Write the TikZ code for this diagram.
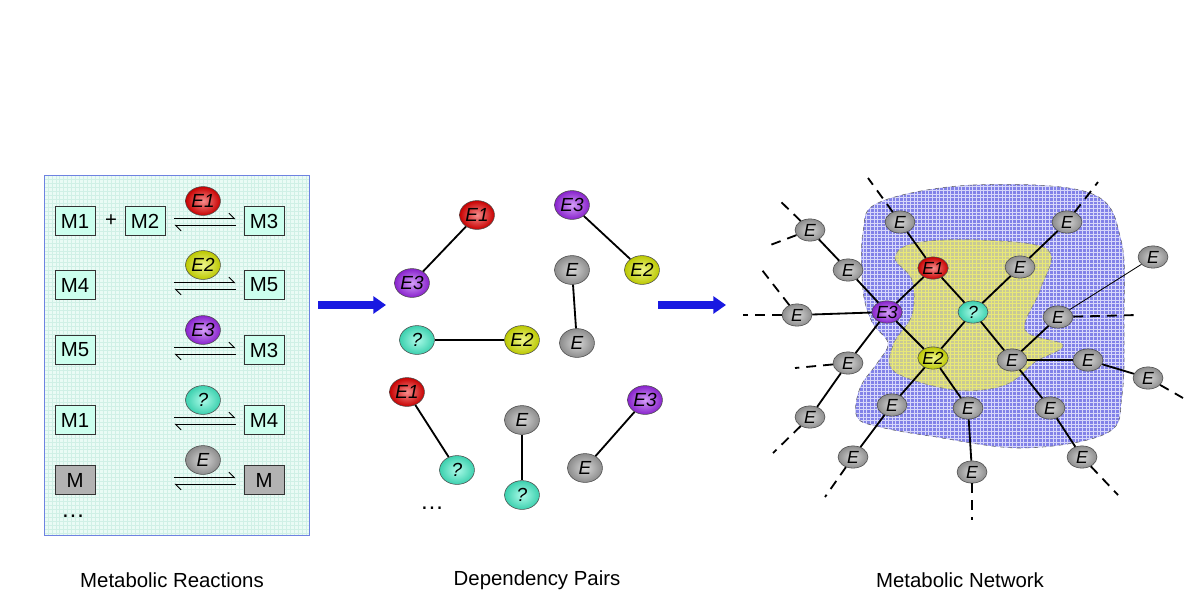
\documentclass[tikz,border=0pt]{standalone}
\usepackage{fontspec}
\setmainfont{Liberation Sans}
\usetikzlibrary{shapes.geometric,arrows.meta}

\definecolor{mint}{RGB}{204,255,238}
\definecolor{panelbg}{RGB}{234,251,245}
\definecolor{panelgrid}{RGB}{208,240,230}
\definecolor{panelline}{RGB}{110,130,225}
\definecolor{enzred}{RGB}{235,0,0}
\definecolor{enzyellow}{RGB}{220,235,0}
\definecolor{enzpurple}{RGB}{160,40,240}
\definecolor{enzcyan}{RGB}{70,245,205}
\definecolor{enzgray}{RGB}{165,165,165}
\definecolor{blobblue}{RGB}{130,130,232}
\definecolor{blobgrid}{RGB}{215,215,250}
\definecolor{blobyellow}{RGB}{200,200,150}
\definecolor{blobyline}{RGB}{232,232,120}
\definecolor{arrowblue}{RGB}{25,25,225}

\tikzset{
  mbox/.style={draw=black!80, fill=mint, minimum width=28.3pt, minimum height=20.6pt,
    inner sep=0pt, font=\fontsize{14.5}{14.5}\selectfont},
  enz/.style={ellipse, draw=black!70, minimum width=24.8pt, minimum height=20.5pt,
    inner sep=0pt, font=\fontsize{13.5}{13.5}\selectfont\itshape,
    inner color=#1!45!white, outer color=#1!85!black},
  enzs/.style={ellipse, draw=black!70, minimum width=21.3pt, minimum height=15.8pt,
    inner sep=0pt, font=\fontsize{12.5}{12.5}\selectfont\itshape,
    inner color=#1!45!white, outer color=#1!85!black},
  eqslot/.style={minimum width=43pt, minimum height=4.3pt, inner sep=0pt},
  eqline/.style={line width=0.6pt, -{Straight Barb[left,length=4pt]}},
  link/.style={line width=1.3pt},
  loose/.style={line width=1.3pt, dash pattern=on 7pt off 5pt},
  bigarrow/.style={line width=5pt, arrowblue, -{Triangle[length=9pt,width=12pt]}},
  caption/.style={font=\fontsize{14.5}{14.5}\selectfont},
  more/.style={font=\fontsize{17}{17}\selectfont},
}

\begin{document}
\begin{tikzpicture}[x=0.025cm, y=-0.025cm]
    \useasboundingbox (0,0) rectangle (1200,600);

    % reactions panel
    \fill[panelbg] (44,175) rectangle (309,535);
    \draw[panelgrid, line width=0.3pt, step=2.83pt] (44,175) grid (309,535);
    \draw[panelline, line width=0.5pt] (44,175) rectangle (309,535);

    \node[mbox] (m1) at (75,221) {M1};
    \node (plus) at (111,221) {\fontsize{14.5}{14.5}\selectfont +};
    \node[mbox] (m2) at (145,221) {M2};
    \node[enz=enzred] (r1) at (203,201) {E1};
    \node[eqslot] (q1) at (205,222) {};
    \node[mbox] (m3) at (264,221) {M3};

    \node[mbox] (m4) at (75,285) {M4};
    \node[enz=enzyellow] (r2) at (203,265) {E2};
    \node[eqslot] (q2) at (205,286) {};
    \node[mbox] (m5) at (264,285) {M5};

    \node[mbox] (m6) at (75,350) {M5};
    \node[enz=enzpurple] (r3) at (203,330) {E3};
    \node[eqslot] (q3) at (205,351) {};
    \node[mbox] (m7) at (264,350) {M3};

    \node[mbox] (m8) at (75,420) {M1};
    \node[enz=enzcyan] (r4) at (203,400) {?};
    \node[eqslot] (q4) at (205,421) {};
    \node[mbox] (m9) at (264,420) {M4};

    \node[mbox, fill=black!30] (m10) at (75,480) {M};
    \node[enz=enzgray] (r5) at (203,460) {E};
    \node[eqslot] (q5) at (205,481) {};
    \node[mbox, fill=black!30] (m11) at (264,480) {M};

    \node[more] (rdots) at (73,516) {\dots};

    \draw[eqline] (q1.north west) -- (q1.north east);
    \draw[eqline] (q1.south east) -- (q1.south west);
    \draw[eqline] (q2.north west) -- (q2.north east);
    \draw[eqline] (q2.south east) -- (q2.south west);
    \draw[eqline] (q3.north west) -- (q3.north east);
    \draw[eqline] (q3.south east) -- (q3.south west);
    \draw[eqline] (q4.north west) -- (q4.north east);
    \draw[eqline] (q4.south east) -- (q4.south west);
    \draw[eqline] (q5.north west) -- (q5.north east);
    \draw[eqline] (q5.south east) -- (q5.south west);

    % arrows between panels
    \coordinate (a1s) at (318,305);
    \coordinate (a1e) at (386,305);
    \coordinate (a2s) at (658,305);
    \coordinate (a2e) at (726,305);
    \draw[bigarrow] (a1s) -- (a1e);
    \draw[bigarrow] (a2s) -- (a2e);

    % dependency pairs
    \node[enz=enzred] (d1) at (477,215) {E1};
    \node[enz=enzpurple] (d2) at (412,283) {E3};
    \node[enz=enzpurple] (d3) at (572,205) {E3};
    \node[enz=enzyellow] (d4) at (642,270) {E2};
    \node[enz=enzgray] (d5) at (572,270) {E};
    \node[enz=enzgray] (d6) at (577,343) {E};
    \node[enz=enzcyan] (d7) at (417,340) {?};
    \node[enz=enzyellow] (d8) at (522,340) {E2};
    \node[enz=enzred] (d9) at (407,392) {E1};
    \node[enz=enzcyan] (d10) at (457,470) {?};
    \node[enz=enzgray] (d11) at (522,420) {E};
    \node[enz=enzcyan] (d12) at (522,495) {?};
    \node[enz=enzpurple] (d13) at (645,400) {E3};
    \node[enz=enzgray] (d14) at (585,468) {E};
    \node[more] (ddots) at (432,508) {\dots};

    \draw[link] (d1) -- (d2);
    \draw[link] (d3) -- (d4);
    \draw[link] (d5) -- (d6);
    \draw[link] (d7) -- (d8);
    \draw[link] (d9) -- (d10);
    \draw[link] (d11) -- (d12);
    \draw[link] (d13) -- (d14);

    % network regions
    \begin{scope}
        \clip plot[smooth cycle, tension=0.6] coordinates {(880,202) (973,185) (1090,193) (1121,240)
            (1124,320) (1122,395) (1107,433) (1023,448) (930,436) (880,427) (857,417) (860,388)
            (878,362) (888,343) (872,322) (863,290) (863,232)};
        \fill[blobblue] (840,170) rectangle (1140,460);
        \draw[blobgrid, line width=0.4pt, step=2.6pt] (840,170) grid (1140,460);
    \end{scope}
    \draw[black!60, dashed, line width=0.4pt] plot[smooth cycle, tension=0.6] coordinates {(880,202)
        (973,185) (1090,193) (1121,240) (1124,320) (1122,395) (1107,433) (1023,448) (930,436)
        (880,427) (857,417) (860,388) (878,362) (888,343) (872,322) (863,290) (863,232)};
    \begin{scope}
        \clip plot[smooth cycle, tension=0.6] coordinates {(895,258) (915,243) (980,240) (1048,250)
            (1040,290) (1025,330) (1063,345) (1035,362) (1005,385) (955,390) (895,372) (893,345)
            (912,315) (912,280)};
        \fill[blobyellow] (880,230) rectangle (1070,400);
        \draw[blobyline, line width=0.4pt, step=2.6pt] (880,230) grid (1070,400);
    \end{scope}
    \draw[black!50, dashed, line width=0.4pt] plot[smooth cycle, tension=0.6] coordinates {(895,258)
        (915,243) (980,240) (1048,250) (1040,290) (1025,330) (1063,345) (1035,362) (1005,385)
        (955,390) (895,372) (893,345) (912,315) (912,280)};

    % network nodes
    \node[enzs=enzred] (ne1) at (933,268) {E1};
    \node[enzs=enzcyan] (nx) at (973,312) {?};
    \node[enzs=enzpurple] (ne3) at (887,312) {E3};
    \node[enzs=enzyellow] (ne2) at (933,358) {E2};
    \node[enzs=enzgray] (na) at (900,222) {E};
    \node[enzs=enzgray] (nb) at (1067,222) {E};
    \node[enzs=enzgray] (nc) at (1020,267) {E};
    \node[enzs=enzgray] (nd) at (1153,257) {E};
    \node[enzs=enzgray] (ne) at (810,230) {E};
    \node[enzs=enzgray] (nf) at (848,270) {E};
    \node[enzs=enzgray] (ng) at (797,315) {E};
    \node[enzs=enzgray] (nh) at (1058,317) {E};
    \node[enzs=enzgray] (ni) at (1012,360) {E};
    \node[enzs=enzgray] (nj) at (1088,360) {E};
    \node[enzs=enzgray] (nk) at (1148,378) {E};
    \node[enzs=enzgray] (nl) at (848,363) {E};
    \node[enzs=enzgray] (nm) at (810,417) {E};
    \node[enzs=enzgray] (nn) at (892,405) {E};
    \node[enzs=enzgray] (no) at (968,408) {E};
    \node[enzs=enzgray] (np) at (1050,408) {E};
    \node[enzs=enzgray] (nq) at (853,457) {E};
    \node[enzs=enzgray] (nr) at (972,472) {E};
    \node[enzs=enzgray] (ns) at (1082,457) {E};

    \coordinate (xa) at (868,178);
    \coordinate (xb) at (1098,182);
    \coordinate (xe1) at (777,198);
    \coordinate (xe2) at (765,247);
    \coordinate (xg1) at (743,315);
    \coordinate (xg2) at (762,270);
    \coordinate (xl) at (795,368);
    \coordinate (xm) at (773,453);
    \coordinate (xq) at (825,497);
    \coordinate (xr) at (972,520);
    \coordinate (xs) at (1118,495);
    \coordinate (xk) at (1183,398);
    \coordinate (xh) at (1137,315);

    \draw[link] (ne1) -- (na);
    \draw[link] (ne1) -- (nx);
    \draw[link] (ne1) -- (ne3);
    \draw[link] (nx) -- (nc);
    \draw[link] (nc) -- (nb);
    \draw[link] (nx) -- (ne2);
    \draw[link] (nx) -- (ni);
    \draw[link] (ne3) -- (ne2);
    \draw[link] (ne3) -- (nf);
    \draw[link] (nf) -- (ne);
    \draw[link] (ne3) -- (ng);
    \draw[link] (ne3) -- (nl);
    \draw[link] (nl) -- (nm);
    \draw[link] (ne2) -- (nn);
    \draw[link] (nn) -- (nq);
    \draw[link] (ne2) -- (no);
    \draw[link] (no) -- (nr);
    \draw[link] (ni) -- (nh);
    \draw[link] (ni) -- (nj);
    \draw[link] (nj) -- (nk);
    \draw[link] (ni) -- (np);
    \draw[link] (np) -- (ns);
    \draw[line width=0.6pt] (nh) -- (nd);

    \draw[loose] (na) -- (xa);
    \draw[loose] (nb) -- (xb);
    \draw[loose] (ne) -- (xe1);
    \draw[loose] (ne) -- (xe2);
    \draw[loose] (ng) -- (xg1);
    \draw[loose] (ng) -- (xg2);
    \draw[loose] (nl) -- (xl);
    \draw[loose] (nm) -- (xm);
    \draw[loose] (nq) -- (xq);
    \draw[loose] (nr) -- (xr);
    \draw[loose] (ns) -- (xs);
    \draw[loose] (nk) -- (xk);
    \draw[loose] (nh) -- (xh);

    % captions
    \node[caption] (c1) at (172,580) {Metabolic Reactions};
    \node[caption] (c2) at (537,580) {Dependency Pairs};
    \node[caption] (c3) at (960,580) {Metabolic Network};
\end{tikzpicture}
\end{document}
